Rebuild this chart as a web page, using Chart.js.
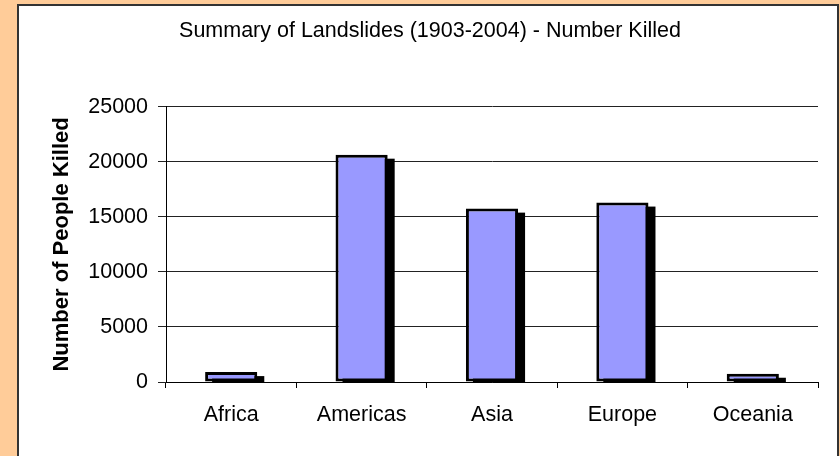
<!DOCTYPE html>
<html>
<head>
<meta charset="utf-8">
<script src="https://cdn.jsdelivr.net/npm/chart.js@4.4.1/dist/chart.umd.min.js"></script>
<style>
  html, body { margin: 0; padding: 0; }
  body { width: 840px; height: 456px; background: #FFCC99; position: relative; overflow: hidden; }
  #frame { position: absolute; left: 17px; top: 4px; width: 818px; height: 480px; background: #fff; border: 2px solid #333; }
  #wrap { position: absolute; left: 0; top: 0; width: 840px; height: 456px; }
</style>
</head>
<body>
<div id="frame"></div>
<div id="wrap"><canvas id="chart" width="840" height="456"></canvas></div>
<script>
// data
const regions = ['Africa', 'Americas', 'Asia', 'Europe', 'Oceania'];
const killed = [900, 20650, 15750, 16300, 750];
const yTicks = [0, 5000, 10000, 15000, 20000, 25000];

const FONT = '"Liberation Sans", Arial, sans-serif';

// black drop shadow behind each bar, like the old Excel chart
const barShadow = {
    id: 'barShadow',
    beforeDatasetsDraw(chart) {
        const ctx = chart.ctx;
        const area = chart.chartArea;
        ctx.save();
        ctx.beginPath();
        ctx.rect(area.left, area.top, area.right - area.left, area.bottom - area.top);
        ctx.clip();
        ctx.fillStyle = '#000';
        chart.getDatasetMeta(0).data.forEach(bar => {
            const { x, y, base, width } = bar.getProps(['x', 'y', 'base', 'width'], true);
            ctx.fillRect(x - width / 2 + 7, y + 4, width, base - y);
        });
        ctx.restore();
    }
};

new Chart(document.getElementById('chart'), {
    type: 'bar',
    data: {
        labels: regions,
        datasets: [{
            data: killed,
            backgroundColor: '#9999FF',
            borderColor: '#000',
            borderWidth: 3,
            borderSkipped: false,
            categoryPercentage: 0.8,
            barPercentage: 0.5
        }]
    },
    options: {
        responsive: false,
        animation: false,
        layout: { padding: { top: 18, right: 22, bottom: 0, left: 42 } },
        plugins: {
            legend: { display: false },
            tooltip: { enabled: false },
            title: {
                display: true,
                text: 'Summary of Landslides (1903-2004) - Number Killed',
                color: '#000',
                font: { family: FONT, size: 21.5, weight: 'normal' },
                padding: { top: 0, bottom: 63 }
            }
        },
        scales: {
            x: {
                grid: { drawOnChartArea: false, offset: true, color: '#000', tickLength: 6 },
                border: { color: '#000', width: 1 },
                ticks: { color: '#000', font: { family: FONT, size: 21.5 }, padding: 14, maxRotation: 0, autoSkip: false },
                afterFit(scale) { scale.height = 74; }
            },
            y: {
                min: 0,
                max: 25000,
                afterBuildTicks(scale) { scale.ticks = yTicks.map(v => ({ value: v })); },
                grid: { color: '#222', tickLength: 8 },
                border: { color: '#000', width: 1 },
                ticks: { color: '#000', font: { family: FONT, size: 21.5 }, padding: 10, callback: v => String(v) },
                title: {
                    display: true,
                    text: 'Number of People Killed',
                    color: '#000',
                    font: { family: FONT, size: 22, weight: 'bold' },
                    padding: { top: 7, bottom: 0 }
                },
                afterFit(scale) { scale.width = 124; }
            }
        }
    },
    plugins: [barShadow]
});
</script>
</body>
</html>
